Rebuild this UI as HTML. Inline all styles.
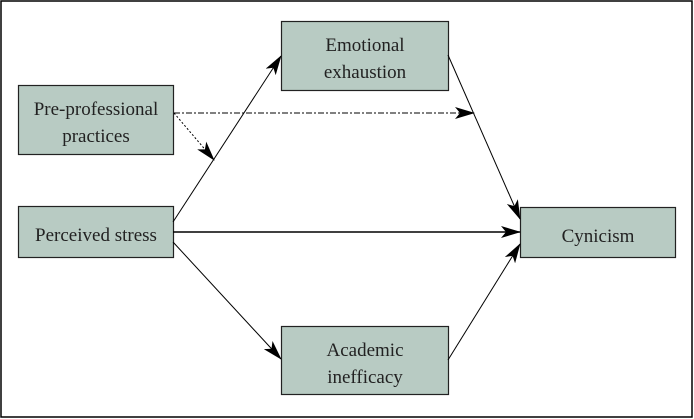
<!DOCTYPE html>
<html><head><style>
html,body{margin:0;padding:0;background:#fff;}
svg{display:block;}
text{font-family:"Liberation Serif",serif;font-size:19px;fill:#222;text-anchor:middle;}
</style></head><body>
<svg width="694" height="419" viewBox="0 0 694 419" xmlns="http://www.w3.org/2000/svg">
<defs>
<marker id="a" markerWidth="20" markerHeight="12" refX="19" refY="6" orient="auto" markerUnits="userSpaceOnUse">
<path d="M0,0 L20,6 L0,12 L5,6 Z" fill="#000"/>
</marker>
</defs>
<rect x="1" y="1" width="691" height="416" fill="#fff" stroke="#000" stroke-width="1.5"/>
<g fill="#b8cbc3" stroke="#222" stroke-width="1.2">
<rect x="281.5" y="21.5" width="167" height="69"/>
<rect x="18.5" y="85.5" width="155" height="69"/>
<rect x="18.5" y="206.5" width="155" height="51"/>
<rect x="520.5" y="207.5" width="155" height="50"/>
<rect x="281.5" y="326.5" width="167" height="68"/>
</g>
<g stroke="#000" fill="none">
<line x1="173" y1="232" x2="520" y2="232" stroke-width="1.4" marker-end="url(#a)"/>
<line x1="173" y1="222" x2="281" y2="56" stroke-width="1" marker-end="url(#a)"/>
<line x1="173" y1="242" x2="281" y2="359" stroke-width="1" marker-end="url(#a)"/>
<line x1="448" y1="55" x2="520" y2="219" stroke-width="1" marker-end="url(#a)"/>
<line x1="448" y1="360" x2="520" y2="244" stroke-width="1" marker-end="url(#a)"/>
<line x1="174" y1="113" x2="474" y2="113" stroke-width="1" stroke-dasharray="6,2,2,2" marker-end="url(#a)"/>
<line x1="174" y1="113" x2="214" y2="160" stroke-width="1" stroke-dasharray="2,2" marker-end="url(#a)"/>
</g>
<text x="365" y="51">Emotional</text>
<text x="365" y="78">exhaustion</text>
<text x="96" y="115">Pre-professional</text>
<text x="96" y="142">practices</text>
<text x="96" y="241">Perceived stress</text>
<text x="598" y="242">Cynicism</text>
<text x="365" y="356">Academic</text>
<text x="365" y="383">inefficacy</text>
</svg>
</body></html>
